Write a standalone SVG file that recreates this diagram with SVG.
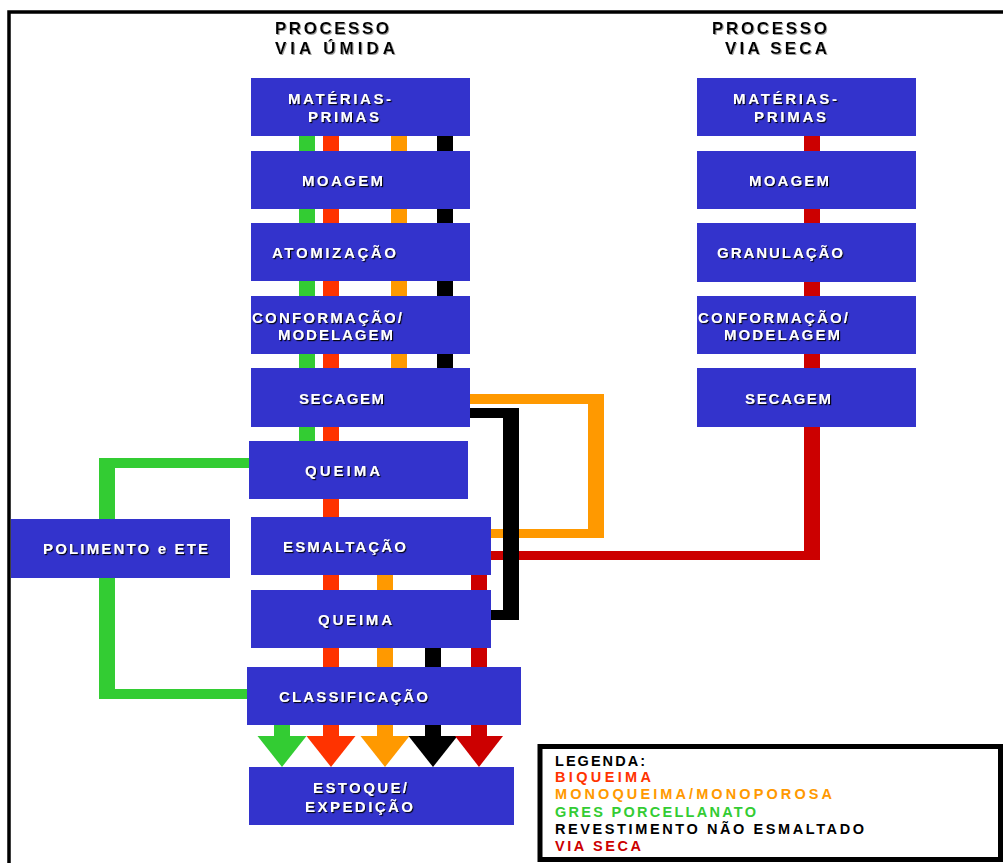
<svg xmlns="http://www.w3.org/2000/svg" width="1003" height="863" viewBox="0 0 1003 863">
  <defs>
    <filter id="sh" x="-5%" y="-30%" width="110%" height="160%">
      <feDropShadow dx="1.2" dy="1.2" stdDeviation="0.3" flood-color="#000" flood-opacity="0.9"/>
    </filter>
    <filter id="shg" x="-5%" y="-30%" width="110%" height="160%">
      <feDropShadow dx="1" dy="1" stdDeviation="0.3" flood-color="#888" flood-opacity="0.8"/>
    </filter>
    <style>
      .box { fill: #3333CC; }
      .lbl { font-family: "Liberation Sans", Arial, sans-serif; font-weight: bold; font-size: 15px; fill: #fff; filter: url(#sh); }
      .ttl { font-family: "Liberation Sans", Arial, sans-serif; font-weight: bold; font-size: 17px; fill: #000; filter: url(#shg); }
      .leg { font-family: "Liberation Sans", Arial, sans-serif; font-weight: bold; font-size: 14.5px; }
      .g { fill: #33CC33; }
      .r { fill: #FF3300; }
      .o { fill: #FF9900; }
      .k { fill: #000; }
      .d { fill: #CC0000; }
    </style>
  </defs>

  <rect width="1003" height="863" fill="#fff"/>
  <!-- page frame -->
  <rect x="9" y="12" width="1010" height="900" fill="none" stroke="#000" stroke-width="3.5"/>

  <!-- titles -->
  <g id="title-umida">
    <text class="ttl" x="275" y="34" textLength="114">PROCESSO</text>
    <text class="ttl" x="275" y="54" textLength="120">VIA ÚMIDA</text>
  </g>
  <g id="title-seca">
    <text class="ttl" x="712" y="34" textLength="115">PROCESSO</text>
    <text class="ttl" x="725" y="54" textLength="102">VIA SECA</text>
  </g>

  <!-- connectors -->
  <g id="connectors">
    <!-- wet process vertical flows -->
    <rect class="g" x="299" y="130" width="16" height="316"/>
    <rect class="r" x="323" y="130" width="16" height="540"/>
    <rect class="o" x="391" y="130" width="16" height="245"/>
    <rect class="k" x="437" y="130" width="16" height="245"/>
    <rect class="o" x="377" y="570" width="16" height="100"/>
    <rect class="d" x="471" y="570" width="16" height="100"/>
    <rect class="k" x="425" y="640" width="16" height="30"/>

    <!-- green loop via polishing -->
    <rect class="g" x="99" y="458" width="152" height="10"/>
    <rect class="g" x="99" y="458" width="16" height="241"/>
    <rect class="g" x="99" y="689" width="150" height="10"/>

    <!-- orange loop secagem -> esmaltação -->
    <rect class="o" x="465" y="394" width="139" height="10"/>
    <rect class="o" x="588" y="394" width="16" height="144"/>
    <rect class="o" x="485" y="529" width="119" height="9"/>

    <!-- dry process line -> esmaltação -->
    <rect class="d" x="804" y="130" width="16" height="430"/>
    <rect class="d" x="485" y="551" width="335" height="9"/>

    <!-- black loop secagem -> queima -->
    <rect class="k" x="465" y="408" width="54" height="10"/>
    <rect class="k" x="503" y="408" width="16" height="212"/>
    <rect class="k" x="485" y="610" width="34" height="10"/>

    <!-- output arrows -->
    <rect class="g" x="274" y="720" width="16" height="17"/>
    <polygon class="g" points="257.5,736 306.5,736 282,767"/>
    <rect class="r" x="323" y="720" width="16" height="17"/>
    <polygon class="r" points="306.5,736 355.5,736 331,767"/>
    <rect class="o" x="377" y="720" width="16" height="17"/>
    <polygon class="o" points="360.5,736 409.5,736 385,767"/>
    <rect class="k" x="425" y="720" width="16" height="17"/>
    <polygon class="k" points="408.5,736 457.5,736 433,767"/>
    <rect class="d" x="471" y="720" width="16" height="17"/>
    <polygon class="d" points="455,736 503,736 479,767"/>
  </g>

  <!-- wet process -->
  <g id="u-materias">
    <rect class="box" x="251" y="78" width="219" height="58"/>
    <text class="lbl" x="288" y="104" textLength="103">MATÉRIAS-</text>
    <text class="lbl" x="308" y="122" textLength="71">PRIMAS</text>
  </g>
  <g id="u-moagem">
    <rect class="box" x="251" y="151" width="219" height="58"/>
    <text class="lbl" x="302" y="186" textLength="81">MOAGEM</text>
  </g>
  <g id="u-atomizacao">
    <rect class="box" x="251" y="223" width="219" height="58"/>
    <text class="lbl" x="272" y="258" textLength="124">ATOMIZAÇÃO</text>
  </g>
  <g id="u-conformacao">
    <rect class="box" x="251" y="296" width="219" height="58"/>
    <text class="lbl" x="252" y="323" textLength="150">CONFORMAÇÃO/</text>
    <text class="lbl" x="278" y="340" textLength="115">MODELAGEM</text>
  </g>
  <g id="u-secagem">
    <rect class="box" x="251" y="368" width="219" height="59"/>
    <text class="lbl" x="299" y="404" textLength="85">SECAGEM</text>
  </g>
  <g id="u-queima1">
    <rect class="box" x="249" y="441" width="219" height="58"/>
    <text class="lbl" x="305" y="476" textLength="75">QUEIMA</text>
  </g>
  <g id="u-esmaltacao">
    <rect class="box" x="251" y="517" width="240" height="58"/>
    <text class="lbl" x="283" y="552" textLength="123">ESMALTAÇÃO</text>
  </g>
  <g id="u-queima2">
    <rect class="box" x="251" y="590" width="240" height="58"/>
    <text class="lbl" x="318" y="625" textLength="74">QUEIMA</text>
  </g>
  <g id="u-classificacao">
    <rect class="box" x="247" y="667" width="274" height="58"/>
    <text class="lbl" x="279" y="702" textLength="149">CLASSIFICAÇÃO</text>
  </g>
  <g id="u-estoque">
    <rect class="box" x="249" y="767" width="265" height="58"/>
    <text class="lbl" x="313" y="793" textLength="94">ESTOQUE/</text>
    <text class="lbl" x="305" y="812" textLength="108">EXPEDIÇÃO</text>
  </g>
  <g id="polimento">
    <rect class="box" x="11" y="519" width="219" height="59"/>
    <text class="lbl" x="43" y="554" textLength="165">POLIMENTO e ETE</text>
  </g>

  <!-- dry process -->
  <g id="s-materias">
    <rect class="box" x="697" y="78" width="219" height="58"/>
    <text class="lbl" x="733" y="104" textLength="104">MATÉRIAS-</text>
    <text class="lbl" x="754" y="122" textLength="72">PRIMAS</text>
  </g>
  <g id="s-moagem">
    <rect class="box" x="697" y="151" width="219" height="58"/>
    <text class="lbl" x="749" y="186" textLength="80">MOAGEM</text>
  </g>
  <g id="s-granulacao">
    <rect class="box" x="697" y="223" width="219" height="59"/>
    <text class="lbl" x="717" y="258" textLength="126">GRANULAÇÃO</text>
  </g>
  <g id="s-conformacao">
    <rect class="box" x="697" y="296" width="219" height="58"/>
    <text class="lbl" x="698" y="323" textLength="150">CONFORMAÇÃO/</text>
    <text class="lbl" x="724" y="340" textLength="116">MODELAGEM</text>
  </g>
  <g id="s-secagem">
    <rect class="box" x="697" y="368" width="219" height="59"/>
    <text class="lbl" x="745" y="404" textLength="86">SECAGEM</text>
  </g>

  <!-- legend -->
  <g id="legenda">
    <rect x="540" y="746.5" width="460.5" height="113" fill="#fff" stroke="#000" stroke-width="5"/>
    <text class="leg" x="555" y="766" textLength="90" fill="#000">LEGENDA:</text>
    <text class="leg" x="555" y="782" textLength="96" fill="#FF3300">BIQUEIMA</text>
    <text class="leg" x="555" y="799" textLength="277" fill="#FF9900">MONOQUEIMA/MONOPOROSA</text>
    <text class="leg" x="555" y="817" textLength="201" fill="#33CC33">GRES PORCELLANATO</text>
    <text class="leg" x="555" y="834" textLength="309" fill="#000">REVESTIMENTO NÃO ESMALTADO</text>
    <text class="leg" x="555" y="851" textLength="86" fill="#CC0000">VIA SECA</text>
  </g>
</svg>
